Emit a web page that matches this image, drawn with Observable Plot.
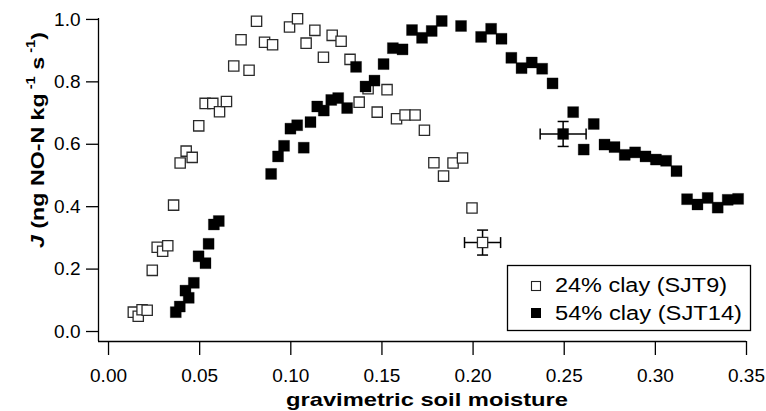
<!DOCTYPE html>
<html><head><meta charset="utf-8">
<script src="https://cdn.jsdelivr.net/npm/d3@7"></script>
<script src="https://cdn.jsdelivr.net/npm/@observablehq/plot@0.6"></script>
<style>body{margin:0;background:#fff;}</style>
</head><body><div id="chart"></div>
<script>
// ---- data ----
const seriesNames = ["24% clay (SJT9)", "54% clay (SJT14)"];
const clay24X = [0.0136,0.0163,0.0184,0.0212,0.0240,0.0267,0.0297,0.0325,0.0357,0.0393,0.0426,0.0459,0.0495,0.0530,0.0572,0.0609,0.0647,0.0687,0.0727,0.0771,0.0812,0.0856,0.0900,0.0993,0.1037,0.1084,0.1132,0.1179,0.1227,0.1276,0.1325,0.1375,0.1424,0.1474,0.1528,0.1580,0.1627,0.1682,0.1733,0.1785,0.1838,0.1890,0.1942,0.1994];
const clay24Y = [0.062,0.049,0.070,0.068,0.196,0.270,0.257,0.275,0.405,0.540,0.578,0.558,0.659,0.731,0.731,0.704,0.737,0.851,0.935,0.837,0.994,0.927,0.919,0.976,1.002,0.924,0.965,0.879,0.949,0.930,0.872,0.735,0.778,0.703,0.775,0.682,0.694,0.694,0.645,0.541,0.498,0.540,0.556,0.396];
const clay54X = [0.0369,0.0391,0.0422,0.0440,0.0468,0.0494,0.0532,0.0549,0.0578,0.0605,0.0892,0.0930,0.0963,0.0998,0.1035,0.1071,0.1108,0.1145,0.1181,0.1222,0.1260,0.1309,0.1358,0.1410,0.1459,0.1509,0.1560,0.1613,0.1665,0.1720,0.1773,0.1828,0.1934,0.2044,0.2099,0.2156,0.2210,0.2266,0.2322,0.2379,0.2436,0.2549,0.2607,0.2662,0.2721,0.2776,0.2832,0.2889,0.2946,0.3003,0.3059,0.3116,0.3174,0.3231,0.3287,0.3342,0.3397,0.3454];
const clay54Y = [0.062,0.080,0.131,0.108,0.156,0.241,0.219,0.281,0.343,0.354,0.505,0.561,0.595,0.650,0.661,0.589,0.671,0.721,0.708,0.742,0.748,0.716,0.848,0.785,0.804,0.857,0.908,0.904,0.966,0.941,0.963,0.995,0.979,0.944,0.970,0.938,0.877,0.844,0.862,0.842,0.795,0.703,0.583,0.665,0.599,0.591,0.566,0.574,0.561,0.551,0.547,0.514,0.424,0.407,0.428,0.397,0.422,0.425];
// points with error bars
const errSeries = [0, 1];
const errX = [0.2052, 0.2494];
const errY = [0.285, 0.633];
const errXErr = [0.0099, 0.0126];
const errYErr = [0.04, 0.04];
const xTicks = [0, 0.05, 0.10, 0.15, 0.20, 0.25, 0.30, 0.35];
const yTicks = [0, 0.2, 0.4, 0.6, 0.8, 1.0];
const xDomain = [-0.0055, 0.35];
const yDomain = [-0.032, 1.003];

// ---- build tables ----
const open = clay24X.map((x, i) => ({x, y: clay24Y[i]}));
const filled = clay54X.map((x, i) => ({x, y: clay54Y[i]}));
errSeries.forEach((s, i) => (s === 0 ? open : filled).push({x: errX[i], y: errY[i]}));
const errs = errX.map((x, i) => ({x, y: errY[i], xe: errXErr[i], ye: errYErr[i]}));
const hCap = {draw(ctx, size) { const r = Math.sqrt(size / Math.PI); ctx.moveTo(-r, 0); ctx.lineTo(r, 0); }};
const vCap = {draw(ctx, size) { const r = Math.sqrt(size / Math.PI); ctx.moveTo(0, -r); ctx.lineTo(0, r); }};

const font = "'Liberation Sans', Arial, Helvetica, sans-serif";
const chart = Plot.plot({
  width: 766, height: 411,
  marginLeft: 98, marginRight: 20, marginTop: 18, marginBottom: 70,
  x: {domain: xDomain},
  y: {domain: yDomain},
  style: {fontFamily: font, fontSize: "19px", color: "#000", background: "#fff", overflow: "visible"},
  marks: [
    Plot.axisX({ticks: xTicks, tickFormat: d => d.toFixed(2), tickSize: 14, tickPadding: 12.5, strokeWidth: 1.3, label: null}),
    Plot.axisY({ticks: yTicks, tickFormat: d => d.toFixed(1), tickSize: 12, tickPadding: 6, strokeWidth: 1.3, label: null}),
    Plot.ruleX([xDomain[0]], {stroke: "#000", strokeWidth: 1.3}),
    Plot.ruleY([yDomain[0]], {stroke: "#000", strokeWidth: 1.3}),
    // error bars
    Plot.link(errs, {x1: d => d.x - d.xe, x2: d => d.x + d.xe, y1: "y", y2: "y", stroke: "#000", strokeWidth: 1.5}),
    Plot.link(errs, {x1: "x", x2: "x", y1: d => d.y - d.ye, y2: d => d.y + d.ye, stroke: "#000", strokeWidth: 1.5}),
    Plot.dot(errs, {x: d => d.x - d.xe, y: "y", symbol: vCap, r: 5.5, stroke: "#000", strokeWidth: 1.5, fill: "none"}),
    Plot.dot(errs, {x: d => d.x + d.xe, y: "y", symbol: vCap, r: 5.5, stroke: "#000", strokeWidth: 1.5, fill: "none"}),
    Plot.dot(errs, {x: "x", y: d => d.y - d.ye, symbol: hCap, r: 5.5, stroke: "#000", strokeWidth: 1.5, fill: "none"}),
    Plot.dot(errs, {x: "x", y: d => d.y + d.ye, symbol: hCap, r: 5.5, stroke: "#000", strokeWidth: 1.5, fill: "none"}),
    // data
    Plot.dot(open, {x: "x", y: "y", symbol: "square", r: 5.8, fill: "#fff", stroke: "#2a2a2a", strokeWidth: 1.3}),
    Plot.dot(filled, {x: "x", y: "y", symbol: "square", r: 6.2, fill: "#000", stroke: "#000", strokeWidth: 0.3})
  ]
});
document.getElementById("chart").appendChild(chart);

// ---- legend and axis titles ----
const svg = d3.select(chart);
const lg = svg.append("g").attr("font-family", font).attr("text-anchor", "start");
lg.append("rect").attr("x", 507.5).attr("y", 265.5).attr("width", 243).attr("height", 65)
  .attr("fill", "#fff").attr("stroke", "#000").attr("stroke-width", 1.3);
lg.append("rect").attr("x", 531.5).attr("y", 281.5).attr("width", 9).attr("height", 9)
  .attr("fill", "#fff").attr("stroke", "#222").attr("stroke-width", 1.1);
lg.append("rect").attr("x", 531).attr("y", 308).attr("width", 10).attr("height", 10).attr("fill", "#000");
lg.append("text").attr("x", 555).attr("y", 292).attr("text-anchor", "start").attr("font-size", 20).attr("textLength", 172)
  .attr("lengthAdjust", "spacingAndGlyphs").text(seriesNames[0]);
lg.append("text").attr("x", 555).attr("y", 320).attr("text-anchor", "start").attr("font-size", 20).attr("textLength", 187)
  .attr("lengthAdjust", "spacingAndGlyphs").text(seriesNames[1]);

svg.append("text").attr("x", 427).attr("y", 406).attr("text-anchor", "middle")
  .attr("font-family", font).attr("font-weight", "bold").attr("font-size", 19)
  .attr("textLength", 282).attr("lengthAdjust", "spacingAndGlyphs")
  .text("gravimetric soil moisture");

const yl = svg.append("text").attr("transform", "translate(44,140) rotate(-90)")
  .attr("text-anchor", "middle").attr("font-family", font).attr("font-weight", "bold")
  .attr("font-size", 19).attr("textLength", 216).attr("lengthAdjust", "spacingAndGlyphs");
yl.append("tspan").attr("font-style", "italic").text("J");
yl.append("tspan").text(" (ng NO-N kg");
yl.append("tspan").attr("font-size", 12).attr("dy", -9).text(" -1");
yl.append("tspan").attr("dy", 9).text(" s");
yl.append("tspan").attr("font-size", 12).attr("dy", -9).text(" -1");
yl.append("tspan").attr("dy", 9).text(")");
</script>
</body></html>
